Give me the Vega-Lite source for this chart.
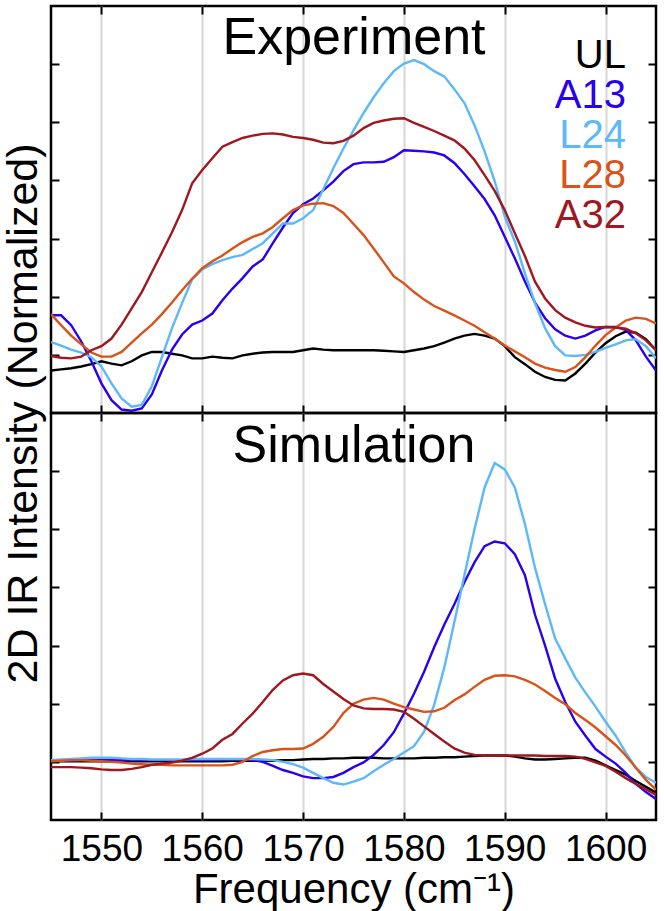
{
  "$schema": "https://vega.github.io/schema/vega-lite/v6.json",
  "background": "white",
  "padding": {"left": 0, "top": 3, "right": 4, "bottom": 0},
  "spacing": 0,
  "bounds": "flush",
  "config": {
    "font": "Liberation Sans",
    "view": {"stroke": "black", "strokeWidth": 2.5},
    "axis": {"domain": false, "tickColor": "black", "tickWidth": 2, "tickSize": -8, "labels": false, "grid": false},
    "axisBottom": {"labelFontSize": 37},
    "line": {"strokeWidth": 2.4}
  },
  "datasets": {
    "exp": [
      {"f":1545,"UL":0.73,"A13":1.68,"L24":1.22,"L28":1.70,"A32":0.98},
      {"f":1546,"UL":0.75,"A13":1.68,"L24":1.16,"L28":1.51,"A32":0.95},
      {"f":1547,"UL":0.77,"A13":1.51,"L24":1.09,"L28":1.33,"A32":0.94},
      {"f":1548,"UL":0.80,"A13":1.23,"L24":1.04,"L28":1.18,"A32":0.97},
      {"f":1549,"UL":0.84,"A13":0.89,"L24":0.96,"L28":1.04,"A32":1.08},
      {"f":1550,"UL":0.89,"A13":0.51,"L24":0.80,"L28":0.97,"A32":1.15},
      {"f":1551,"UL":0.85,"A13":0.22,"L24":0.51,"L28":0.97,"A32":1.28},
      {"f":1552,"UL":0.82,"A13":0.06,"L24":0.25,"L28":1.05,"A32":1.52},
      {"f":1553,"UL":0.89,"A13":0.04,"L24":0.11,"L28":1.21,"A32":1.80},
      {"f":1554,"UL":0.99,"A13":0.08,"L24":0.14,"L28":1.37,"A32":2.08},
      {"f":1555,"UL":1.05,"A13":0.32,"L24":0.46,"L28":1.52,"A32":2.42},
      {"f":1556,"UL":1.05,"A13":0.73,"L24":0.96,"L28":1.70,"A32":2.76},
      {"f":1557,"UL":1.02,"A13":1.09,"L24":1.46,"L28":1.90,"A32":3.11},
      {"f":1558,"UL":0.99,"A13":1.35,"L24":1.89,"L28":2.11,"A32":3.49},
      {"f":1559,"UL":0.94,"A13":1.52,"L24":2.30,"L28":2.31,"A32":3.95},
      {"f":1560,"UL":0.94,"A13":1.59,"L24":2.47,"L28":2.49,"A32":4.18},
      {"f":1561,"UL":0.97,"A13":1.71,"L24":2.56,"L28":2.61,"A32":4.38},
      {"f":1562,"UL":0.95,"A13":1.94,"L24":2.63,"L28":2.71,"A32":4.58},
      {"f":1563,"UL":0.94,"A13":2.14,"L24":2.68,"L28":2.83,"A32":4.66},
      {"f":1564,"UL":0.99,"A13":2.32,"L24":2.72,"L28":2.94,"A32":4.73},
      {"f":1565,"UL":1.02,"A13":2.52,"L24":2.82,"L28":3.03,"A32":4.77},
      {"f":1566,"UL":1.04,"A13":2.64,"L24":2.92,"L28":3.09,"A32":4.80},
      {"f":1567,"UL":1.05,"A13":2.92,"L24":3.09,"L28":3.20,"A32":4.81},
      {"f":1568,"UL":1.05,"A13":3.19,"L24":3.26,"L28":3.35,"A32":4.79},
      {"f":1569,"UL":1.05,"A13":3.44,"L24":3.26,"L28":3.49,"A32":4.75},
      {"f":1570,"UL":1.08,"A13":3.59,"L24":3.35,"L28":3.57,"A32":4.73},
      {"f":1571,"UL":1.11,"A13":3.69,"L24":3.49,"L28":3.60,"A32":4.70},
      {"f":1572,"UL":1.09,"A13":3.83,"L24":3.85,"L28":3.61,"A32":4.65},
      {"f":1573,"UL":1.08,"A13":3.98,"L24":4.21,"L28":3.56,"A32":4.64},
      {"f":1574,"UL":1.08,"A13":4.16,"L24":4.55,"L28":3.44,"A32":4.68},
      {"f":1575,"UL":1.08,"A13":4.28,"L24":4.86,"L28":3.25,"A32":4.77},
      {"f":1576,"UL":1.08,"A13":4.31,"L24":5.16,"L28":3.06,"A32":4.90},
      {"f":1577,"UL":1.08,"A13":4.31,"L24":5.43,"L28":2.83,"A32":4.99},
      {"f":1578,"UL":1.07,"A13":4.32,"L24":5.67,"L28":2.59,"A32":5.03},
      {"f":1579,"UL":1.06,"A13":4.40,"L24":5.88,"L28":2.35,"A32":5.06},
      {"f":1580,"UL":1.05,"A13":4.52,"L24":6.01,"L28":2.23,"A32":5.07},
      {"f":1581,"UL":1.08,"A13":4.51,"L24":6.07,"L28":2.08,"A32":4.99},
      {"f":1582,"UL":1.11,"A13":4.50,"L24":6.00,"L28":1.95,"A32":4.92},
      {"f":1583,"UL":1.15,"A13":4.48,"L24":5.88,"L28":1.84,"A32":4.85},
      {"f":1584,"UL":1.21,"A13":4.43,"L24":5.79,"L28":1.76,"A32":4.77},
      {"f":1585,"UL":1.28,"A13":4.30,"L24":5.57,"L28":1.68,"A32":4.69},
      {"f":1586,"UL":1.33,"A13":4.11,"L24":5.33,"L28":1.59,"A32":4.55},
      {"f":1587,"UL":1.36,"A13":3.90,"L24":4.95,"L28":1.50,"A32":4.35},
      {"f":1588,"UL":1.33,"A13":3.68,"L24":4.50,"L28":1.39,"A32":4.09},
      {"f":1589,"UL":1.28,"A13":3.40,"L24":3.99,"L28":1.28,"A32":3.82},
      {"f":1590,"UL":1.15,"A13":3.03,"L24":3.38,"L28":1.16,"A32":3.49},
      {"f":1591,"UL":0.96,"A13":2.66,"L24":2.95,"L28":1.06,"A32":3.09},
      {"f":1592,"UL":0.84,"A13":2.26,"L24":2.40,"L28":0.96,"A32":2.70},
      {"f":1593,"UL":0.71,"A13":1.90,"L24":1.89,"L28":0.85,"A32":2.26},
      {"f":1594,"UL":0.62,"A13":1.63,"L24":1.46,"L28":0.78,"A32":1.97},
      {"f":1595,"UL":0.57,"A13":1.44,"L24":1.15,"L28":0.74,"A32":1.77},
      {"f":1596,"UL":0.56,"A13":1.33,"L24":0.99,"L28":0.71,"A32":1.64},
      {"f":1597,"UL":0.68,"A13":1.28,"L24":0.98,"L28":0.79,"A32":1.56},
      {"f":1598,"UL":0.85,"A13":1.33,"L24":1.00,"L28":0.96,"A32":1.50},
      {"f":1599,"UL":1.04,"A13":1.42,"L24":1.05,"L28":1.16,"A32":1.47},
      {"f":1600,"UL":1.20,"A13":1.48,"L24":1.12,"L28":1.34,"A32":1.48},
      {"f":1601,"UL":1.32,"A13":1.48,"L24":1.18,"L28":1.47,"A32":1.47},
      {"f":1602,"UL":1.40,"A13":1.43,"L24":1.25,"L28":1.59,"A32":1.45},
      {"f":1603,"UL":1.38,"A13":1.25,"L24":1.27,"L28":1.64,"A32":1.37},
      {"f":1604,"UL":1.27,"A13":0.97,"L24":1.15,"L28":1.62,"A32":1.25},
      {"f":1605,"UL":1.08,"A13":0.73,"L24":0.94,"L28":1.54,"A32":1.08}
    ],
    "sim": [
      {"f":1545,"UL":1.01,"A13":1.02,"L24":1.03,"L28":1.01,"A32":0.91},
      {"f":1546,"UL":1.01,"A13":1.02,"L24":1.04,"L28":1.02,"A32":0.91},
      {"f":1547,"UL":1.01,"A13":1.02,"L24":1.05,"L28":1.03,"A32":0.91},
      {"f":1548,"UL":1.01,"A13":1.03,"L24":1.06,"L28":1.03,"A32":0.90},
      {"f":1549,"UL":1.01,"A13":1.03,"L24":1.07,"L28":1.02,"A32":0.89},
      {"f":1550,"UL":1.01,"A13":1.03,"L24":1.07,"L28":1.01,"A32":0.87},
      {"f":1551,"UL":1.01,"A13":1.03,"L24":1.07,"L28":1.00,"A32":0.86},
      {"f":1552,"UL":1.01,"A13":1.03,"L24":1.06,"L28":0.99,"A32":0.86},
      {"f":1553,"UL":1.01,"A13":1.03,"L24":1.05,"L28":0.97,"A32":0.88},
      {"f":1554,"UL":1.01,"A13":1.03,"L24":1.05,"L28":0.96,"A32":0.91},
      {"f":1555,"UL":1.01,"A13":1.03,"L24":1.04,"L28":0.95,"A32":0.95},
      {"f":1556,"UL":1.01,"A13":1.03,"L24":1.04,"L28":0.95,"A32":0.97},
      {"f":1557,"UL":1.01,"A13":1.03,"L24":1.04,"L28":0.94,"A32":0.99},
      {"f":1558,"UL":1.01,"A13":1.03,"L24":1.04,"L28":0.94,"A32":1.02},
      {"f":1559,"UL":1.01,"A13":1.03,"L24":1.05,"L28":0.94,"A32":1.07},
      {"f":1560,"UL":1.01,"A13":1.03,"L24":1.05,"L28":0.94,"A32":1.14},
      {"f":1561,"UL":1.01,"A13":1.03,"L24":1.05,"L28":0.94,"A32":1.23},
      {"f":1562,"UL":1.01,"A13":1.04,"L24":1.05,"L28":0.94,"A32":1.38},
      {"f":1563,"UL":1.02,"A13":1.04,"L24":1.05,"L28":0.95,"A32":1.48},
      {"f":1564,"UL":1.02,"A13":1.04,"L24":1.05,"L28":1.00,"A32":1.66},
      {"f":1565,"UL":1.02,"A13":1.03,"L24":1.05,"L28":1.10,"A32":1.83},
      {"f":1566,"UL":1.02,"A13":1.00,"L24":1.04,"L28":1.17,"A32":2.03},
      {"f":1567,"UL":1.02,"A13":0.93,"L24":1.03,"L28":1.20,"A32":2.24},
      {"f":1568,"UL":1.03,"A13":0.86,"L24":1.00,"L28":1.22,"A32":2.40},
      {"f":1569,"UL":1.03,"A13":0.81,"L24":0.96,"L28":1.22,"A32":2.49},
      {"f":1570,"UL":1.04,"A13":0.75,"L24":0.90,"L28":1.23,"A32":2.52},
      {"f":1571,"UL":1.05,"A13":0.72,"L24":0.81,"L28":1.31,"A32":2.49},
      {"f":1572,"UL":1.05,"A13":0.72,"L24":0.72,"L28":1.43,"A32":2.34},
      {"f":1573,"UL":1.06,"A13":0.74,"L24":0.64,"L28":1.60,"A32":2.21},
      {"f":1574,"UL":1.06,"A13":0.81,"L24":0.61,"L28":1.84,"A32":2.08},
      {"f":1575,"UL":1.07,"A13":0.91,"L24":0.66,"L28":2.00,"A32":1.97},
      {"f":1576,"UL":1.07,"A13":0.99,"L24":0.72,"L28":2.07,"A32":1.92},
      {"f":1577,"UL":1.07,"A13":1.12,"L24":0.84,"L28":2.10,"A32":1.91},
      {"f":1578,"UL":1.06,"A13":1.29,"L24":0.95,"L28":2.07,"A32":1.91},
      {"f":1579,"UL":1.06,"A13":1.51,"L24":1.05,"L28":2.00,"A32":1.90},
      {"f":1580,"UL":1.06,"A13":1.83,"L24":1.16,"L28":1.94,"A32":1.86},
      {"f":1581,"UL":1.06,"A13":2.17,"L24":1.27,"L28":1.90,"A32":1.74},
      {"f":1582,"UL":1.07,"A13":2.55,"L24":1.52,"L28":1.86,"A32":1.61},
      {"f":1583,"UL":1.07,"A13":2.97,"L24":1.98,"L28":1.87,"A32":1.48},
      {"f":1584,"UL":1.08,"A13":3.36,"L24":2.62,"L28":1.93,"A32":1.35},
      {"f":1585,"UL":1.08,"A13":3.71,"L24":3.40,"L28":2.06,"A32":1.23},
      {"f":1586,"UL":1.09,"A13":4.09,"L24":4.21,"L28":2.16,"A32":1.16},
      {"f":1587,"UL":1.10,"A13":4.43,"L24":5.00,"L28":2.29,"A32":1.12},
      {"f":1588,"UL":1.11,"A13":4.71,"L24":5.72,"L28":2.41,"A32":1.11},
      {"f":1589,"UL":1.11,"A13":4.79,"L24":6.14,"L28":2.48,"A32":1.11},
      {"f":1590,"UL":1.11,"A13":4.76,"L24":6.03,"L28":2.49,"A32":1.11},
      {"f":1591,"UL":1.09,"A13":4.57,"L24":5.72,"L28":2.47,"A32":1.11},
      {"f":1592,"UL":1.06,"A13":4.21,"L24":5.09,"L28":2.41,"A32":1.11},
      {"f":1593,"UL":1.04,"A13":3.53,"L24":4.34,"L28":2.33,"A32":1.11},
      {"f":1594,"UL":1.04,"A13":3.00,"L24":3.71,"L28":2.22,"A32":1.10},
      {"f":1595,"UL":1.05,"A13":2.43,"L24":3.12,"L28":2.10,"A32":1.10},
      {"f":1596,"UL":1.06,"A13":2.03,"L24":2.78,"L28":1.99,"A32":1.10},
      {"f":1597,"UL":1.07,"A13":1.69,"L24":2.45,"L28":1.84,"A32":1.09},
      {"f":1598,"UL":1.07,"A13":1.45,"L24":2.19,"L28":1.72,"A32":1.05},
      {"f":1599,"UL":1.02,"A13":1.22,"L24":1.95,"L28":1.59,"A32":0.99},
      {"f":1600,"UL":0.94,"A13":1.09,"L24":1.69,"L28":1.44,"A32":0.93},
      {"f":1601,"UL":0.86,"A13":0.97,"L24":1.45,"L28":1.29,"A32":0.83},
      {"f":1602,"UL":0.78,"A13":0.81,"L24":1.16,"L28":1.11,"A32":0.72},
      {"f":1603,"UL":0.67,"A13":0.62,"L24":0.90,"L28":0.90,"A32":0.62},
      {"f":1604,"UL":0.57,"A13":0.48,"L24":0.74,"L28":0.69,"A32":0.53},
      {"f":1605,"UL":0.47,"A13":0.36,"L24":0.64,"L28":0.52,"A32":0.43}
    ]
  },
  "resolve": {"scale": {"color": "shared"}, "legend": {"color": "independent"}},
  "vconcat": [
    {
      "width": 605,
      "height": 407,
      "data": {"name": "exp"},
      "transform": [{"fold": ["UL", "A13", "L24", "L28", "A32"], "as": ["series", "v"]}],
      "layer": [
        {
          "mark": {"type": "line", "clip": true},
          "encoding": {
            "x": {"field": "f", "type": "quantitative", "scale": {"domain": [1545, 1605], "nice": false},
                  "axis": {"orient": "bottom", "values": [1550, 1560, 1570, 1580, 1590, 1600], "grid": true, "gridColor": "#d6d6d6", "gridWidth": 2, "labels": false, "title": null}},
            "y": {"field": "v", "type": "quantitative", "scale": {"domain": [0, 7], "nice": false, "zero": false},
                  "axis": {"orient": "left", "values": [1, 2, 3, 4, 5, 6], "title": "2D IR Intensity (Normalized)", "titleFontSize": 43, "titleFontWeight": "normal", "titleColor": "black", "titleAngle": -90, "titleX": -15, "titleY": 407, "titleBaseline": "alphabetic", "titleAlign": "center"}},
            "color": {"field": "series", "type": "nominal",
                      "scale": {"domain": ["UL", "A13", "L24", "L28", "A32"], "range": ["#000000", "#2a00f0", "#5db8fa", "#d95319", "#a0171f"]},
                      "legend": {"orient": "top-right", "offset": 30, "padding": 0, "title": null, "symbolOpacity": 0, "symbolSize": 0, "symbolStrokeWidth": 0, "labelFontSize": 40, "labelAlign": "right", "labelOffset": 0, "labelLimit": 0, "rowPadding": 0,
                                 "labelColor": {"expr": "scale('color', datum.value)"}}}
          }
        },
        {
          "mark": {"type": "line", "opacity": 0},
          "encoding": {
            "x": {"field": "f", "type": "quantitative", "axis": {"orient": "top", "values": [1550, 1560, 1570, 1580, 1590, 1600], "labels": false,
                  "title": "Experiment", "titleFontSize": 52, "titleFontWeight": "normal", "titleColor": "black", "titleX": 302.5, "titleY": 47, "titleAlign": "center", "titleBaseline": "alphabetic", "titleAngle": 0}},
            "y": {"field": "v", "type": "quantitative", "axis": {"orient": "right", "values": [1, 2, 3, 4, 5, 6], "labels": false, "title": null}},
            "detail": {"field": "series"}
          }
        }
      ],
      "resolve": {"axis": {"x": "independent", "y": "independent"}}
    },
    {
      "width": 605,
      "height": 407,
      "data": {"name": "sim"},
      "transform": [{"fold": ["UL", "A13", "L24", "L28", "A32"], "as": ["series", "v"]}],
      "layer": [
        {
          "mark": {"type": "line", "clip": true},
          "encoding": {
            "x": {"field": "f", "type": "quantitative", "scale": {"domain": [1545, 1605], "nice": false},
                  "axis": {"orient": "bottom", "values": [1550, 1560, 1570, 1580, 1590, 1600], "grid": true, "gridColor": "#d6d6d6", "gridWidth": 2, "labels": true, "labelFontSize": 37, "labelColor": "black", "labelPadding": 19, "format": "d", "title": "Frequency (cm⁻¹)", "titleFontSize": 42, "titleFontWeight": "normal", "titleColor": "black", "titlePadding": 2}},
            "y": {"field": "v", "type": "quantitative", "scale": {"domain": [0, 7], "nice": false, "zero": false},
                  "axis": {"orient": "left", "values": [1, 2, 3, 4, 5, 6], "labels": false, "title": null}},
            "color": {"field": "series", "type": "nominal", "legend": null}
          }
        },
        {
          "mark": {"type": "line", "opacity": 0},
          "encoding": {
            "x": {"field": "f", "type": "quantitative", "axis": {"orient": "top", "values": [1550, 1560, 1570, 1580, 1590, 1600], "labels": false,
                  "title": "Simulation", "titleFontSize": 52, "titleFontWeight": "normal", "titleColor": "black", "titleX": 302.5, "titleY": 48, "titleAlign": "center", "titleBaseline": "alphabetic", "titleAngle": 0}},
            "y": {"field": "v", "type": "quantitative", "axis": {"orient": "right", "values": [1, 2, 3, 4, 5, 6], "labels": false, "title": null}},
            "detail": {"field": "series"}
          }
        }
      ],
      "resolve": {"axis": {"x": "independent", "y": "independent"}}
    }
  ]
}
